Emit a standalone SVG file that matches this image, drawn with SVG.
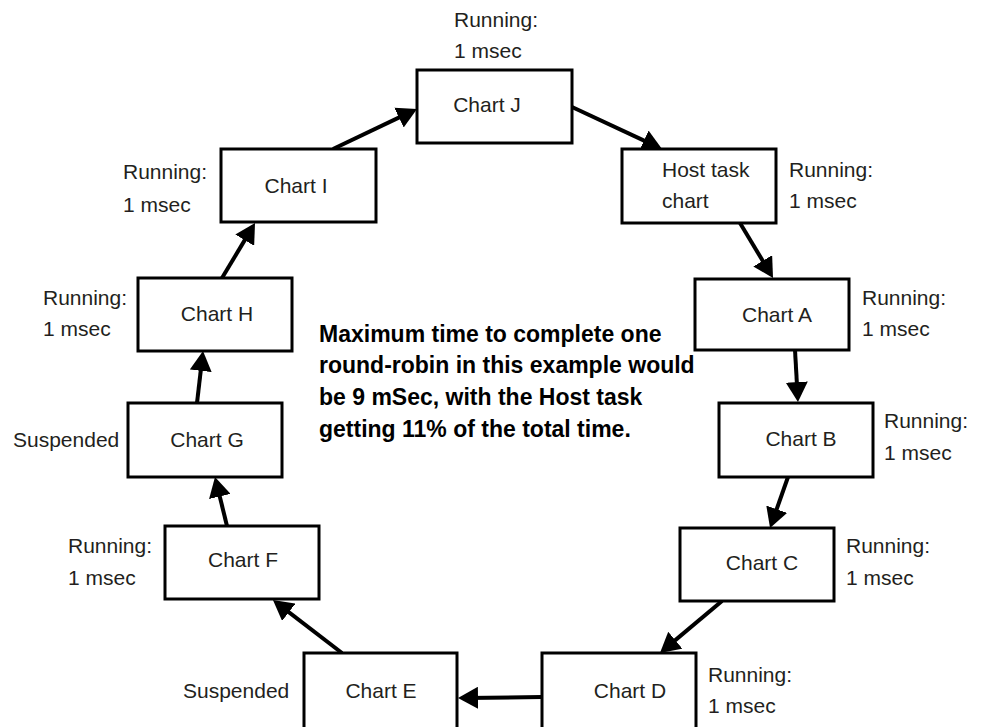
<svg xmlns="http://www.w3.org/2000/svg" width="982" height="727" viewBox="0 0 982 727">
<style>
.box{fill:#fff;stroke:#000;stroke-width:3}
.t{font-family:"Liberation Sans",Arial,sans-serif;font-size:21px;fill:#231f20}
.c{text-anchor:middle}
.b{font-family:"Liberation Sans",Arial,sans-serif;font-size:23px;font-weight:bold;fill:#000}
.ln{stroke:#000;stroke-width:4;fill:none;marker-end:url(#ah)}
</style>
<defs>
<marker id="ah" viewBox="0 0 20 22" refX="12" refY="11" markerWidth="20" markerHeight="22" markerUnits="userSpaceOnUse" orient="auto"><path d="M0,0 L20,11 L0,22 z" fill="#000"/></marker>
</defs>
<rect width="982" height="727" fill="#fff"/>
<g id="connectors">
<line class="ln" x1="333" y1="149" x2="409.8" y2="112.4"/>
<line class="ln" x1="572" y1="107" x2="654.8" y2="145.6"/>
<line class="ln" x1="740" y1="223" x2="768.9" y2="271.1"/>
<line class="ln" x1="795" y1="350" x2="797.5" y2="394"/>
<line class="ln" x1="788" y1="477" x2="772.7" y2="520.5"/>
<line class="ln" x1="722" y1="601" x2="666.1" y2="647.9"/>
<line class="ln" x1="542" y1="697" x2="466" y2="697.9"/>
<line class="ln" x1="342" y1="653" x2="279.3" y2="604.9"/>
<line class="ln" x1="227" y1="526" x2="216.9" y2="484.8"/>
<line class="ln" x1="197" y1="403" x2="202.1" y2="358.9"/>
<line class="ln" x1="222" y1="278" x2="250.9" y2="229.9"/>
</g>
<g id="chartJ"><rect class="box" x="417" y="70" width="155" height="73"/><text class="t c" x="487" y="112">Chart J</text>
<text class="t" x="454" y="27">Running:</text><text class="t" x="454" y="58">1 msec</text></g>
<g id="chartI"><rect class="box" x="221" y="149" width="155" height="73"/><text class="t c" x="296" y="193">Chart I</text>
<text class="t" x="123" y="179">Running:</text><text class="t" x="123" y="212">1 msec</text></g>
<g id="hostTask"><rect class="box" x="622" y="149" width="154" height="74"/><text class="t" x="662" y="177">Host task</text><text class="t" x="662" y="208">chart</text>
<text class="t" x="789" y="177">Running:</text><text class="t" x="789" y="208">1 msec</text></g>
<g id="chartA"><rect class="box" x="695" y="279" width="154" height="71"/><text class="t c" x="777" y="322">Chart A</text>
<text class="t" x="862" y="305">Running:</text><text class="t" x="862" y="336">1 msec</text></g>
<g id="chartB"><rect class="box" x="719" y="403" width="154" height="74"/><text class="t c" x="801" y="446">Chart B</text>
<text class="t" x="884" y="428">Running:</text><text class="t" x="884" y="460">1 msec</text></g>
<g id="chartC"><rect class="box" x="680" y="528" width="154" height="73"/><text class="t c" x="762" y="570">Chart C</text>
<text class="t" x="846" y="553">Running:</text><text class="t" x="846" y="585">1 msec</text></g>
<g id="chartD"><rect class="box" x="542" y="653" width="154" height="80"/><text class="t c" x="630" y="698">Chart D</text>
<text class="t" x="708" y="682">Running:</text><text class="t" x="708" y="713">1 msec</text></g>
<g id="chartE"><rect class="box" x="304" y="653" width="153" height="80"/><text class="t c" x="381" y="698">Chart E</text>
<text class="t" x="183" y="698">Suspended</text></g>
<g id="chartF"><rect class="box" x="165" y="526" width="154" height="73"/><text class="t c" x="243" y="567">Chart F</text>
<text class="t" x="68" y="553">Running:</text><text class="t" x="68" y="585">1 msec</text></g>
<g id="chartG"><rect class="box" x="128" y="403" width="154" height="74"/><text class="t c" x="207" y="447">Chart G</text>
<text class="t" x="13" y="447">Suspended</text></g>
<g id="chartH"><rect class="box" x="138" y="278" width="154" height="73"/><text class="t c" x="217" y="321">Chart H</text>
<text class="t" x="43" y="305">Running:</text><text class="t" x="43" y="336">1 msec</text></g>
<g id="note">
<text class="b" x="319" y="342">Maximum time to complete one</text>
<text class="b" x="319" y="373">round-robin in this example would</text>
<text class="b" x="319" y="405">be 9 mSec, with the Host task</text>
<text class="b" x="319" y="437">getting 11% of the total time.</text>
</g>
</svg>
